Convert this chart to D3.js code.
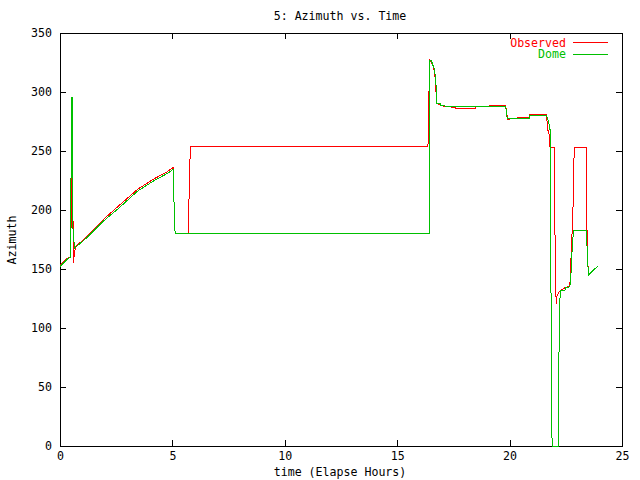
<!DOCTYPE html>
<html>
<head>
<meta charset="utf-8">
<script src="https://cdn.jsdelivr.net/npm/d3@7"></script>
<style>
  body { margin: 0; background: #fff; }
  text { font-family: "DejaVu Sans Mono", monospace; font-size: 11.6px; fill: #000; }
  .tick line, .domain { stroke: #000; shape-rendering: crispEdges; }
  .serie { fill: none; stroke-width: 1; shape-rendering: crispEdges; }
</style>
</head>
<body>
<div id="chart"></div>
<script>
  // [hours, degrees]
  var observed = [
    [0.00,153],[0.10,155],[0.20,157],[0.30,159],[0.45,160],[0.47,160],[0.48,193],[0.50,185],
    [0.54,254],[0.56,214],[0.58,189],[0.60,155],[0.64,163],[0.70,169],[1.22,178],[1.96,192.5],
    [2.70,205],[3.45,217.5],[4.19,226.5],[4.78,232.5],[5.03,236],[5.05,235.6],[5.06,212],
    [5.10,194],[5.12,180],[5.72,180],[5.73,198.5],[5.76,236],[5.82,254],[16.37,254],[16.38,272],
    [16.41,290],[16.42,309],[16.44,327],[16.50,326],[16.56,323],[16.62,321],[16.70,310],
    [16.75,291],[16.85,289.5],[16.93,289],[17.05,288],[17.20,288],[17.70,286],[18.49,286],
    [18.50,287.5],[19.08,287.5],[19.09,288.4],[19.83,288.4],[19.87,282],[19.92,277],
    [20.30,277.5],[20.35,278.5],[20.80,278.5],[20.87,278],[20.90,281],[21.62,281],[21.66,276],
    [21.70,268],[21.76,263.6],[21.80,253],[21.98,253],[21.99,219.7],[22.04,153],[22.07,120],
    [22.09,126.5],[22.16,129.4],[22.21,130.8],[22.31,132.5],[22.50,134.5],[22.68,135.5],
    [22.82,200],[22.84,235.3],[22.89,253],[23.40,253],[23.42,226.8],[23.45,171.7],
    [23.48,154.8],[23.52,145],[23.92,152.5]
  ];
  var dome = [
    [0.00,152],[0.10,154],[0.20,156],[0.30,158],[0.45,160],[0.47,160],[0.48,193],[0.50,260],
    [0.52,295],[0.54,295],[0.56,189],[0.62,173],[0.66,168],[0.70,168.5],[1.22,177],[1.96,191],
    [2.70,203],[3.45,216],[4.19,225],[4.78,231],[5.00,234],[5.05,234],[5.06,212],[5.10,194],
    [5.12,180],[16.43,180],[16.44,327],[16.50,327],[16.55,325],[16.60,322],[16.65,320],
    [16.72,310],[16.75,290],[16.92,290],[16.95,288.5],[17.10,288.5],[17.15,287.5],[19.83,287.5],
    [19.87,280.5],[19.90,277.7],[20.87,277.7],[20.90,280.5],[21.62,280.5],[21.70,277],
    [21.75,273],[21.80,268],[21.82,203],[21.86,69],[21.89,0],[22.16,0],[22.17,33],[22.21,98],
    [22.25,131],[22.31,132],[22.46,132],[22.50,134],[22.68,135],[22.74,148],[22.79,170],
    [22.85,183],[23.40,183],[23.43,175],[23.48,155],[23.50,146],[23.52,145],[23.92,152.5]
  ];
  var xTicks = [0, 5, 10, 15, 20, 25];
  var yTicks = [0, 50, 100, 150, 200, 250, 300, 350];

  var width = 640, height = 480;
  var plotLeft = 60, plotRight = 622, plotTop = 33, plotBottom = 446;

  var svg = d3.select("#chart").append("svg")
      .attr("width", width)
      .attr("height", height);

  var x = d3.scaleLinear().domain([0, 25]).range([plotLeft, plotRight]);
  var y = d3.scaleLinear().domain([0, 350]).range([plotBottom, plotTop]);

  svg.append("g")
      .attr("transform", "translate(0," + plotBottom + ")")
      .call(d3.axisBottom(x).tickValues(xTicks).tickSizeInner(-6).tickSizeOuter(0).tickPadding(6));
  svg.append("g")
      .attr("transform", "translate(0," + plotTop + ")")
      .call(d3.axisTop(x).tickValues(xTicks).tickSizeInner(-6).tickSizeOuter(0).tickFormat(""));
  svg.append("g")
      .attr("transform", "translate(" + plotLeft + ",0)")
      .call(d3.axisLeft(y).tickValues(yTicks).tickSizeInner(-6).tickSizeOuter(0).tickPadding(8));
  svg.append("g")
      .attr("transform", "translate(" + plotRight + ",0)")
      .call(d3.axisRight(y).tickValues(yTicks).tickSizeInner(-6).tickSizeOuter(0).tickFormat(""));
  svg.selectAll(".tick text").style("font-family", '"DejaVu Sans Mono", monospace').style("font-size", "11.6px");

  var line = d3.line()
      .x(function(d) { return x(d[0]); })
      .y(function(d) { return y(d[1]); });

  svg.append("path").datum(observed).attr("class", "serie").attr("stroke", "#ff0000").attr("d", line);
  svg.append("path").datum(dome).attr("class", "serie").attr("stroke", "#00c000").attr("d", line);

  // legend
  var legend = [["Observed", "#ff0000"], ["Dome", "#00c000"]];
  legend.forEach(function(l, i) {
    var ly = 42.5 + i * 11.5;
    svg.append("text").attr("x", 566).attr("y", ly + 4).attr("text-anchor", "end")
        .style("fill", l[1]).text(l[0]);
    svg.append("line").attr("x1", 573).attr("x2", 608).attr("y1", ly).attr("y2", ly)
        .attr("stroke", l[1]).attr("shape-rendering", "crispEdges");
  });

  svg.append("text").attr("x", 340).attr("y", 20).attr("text-anchor", "middle").text("5: Azimuth vs. Time");
  svg.append("text").attr("x", 340).attr("y", 476).attr("text-anchor", "middle").text("time (Elapse Hours)");
  svg.append("text").attr("transform", "translate(16,240) rotate(-90)").attr("text-anchor", "middle").text("Azimuth");
</script>
</body>
</html>
